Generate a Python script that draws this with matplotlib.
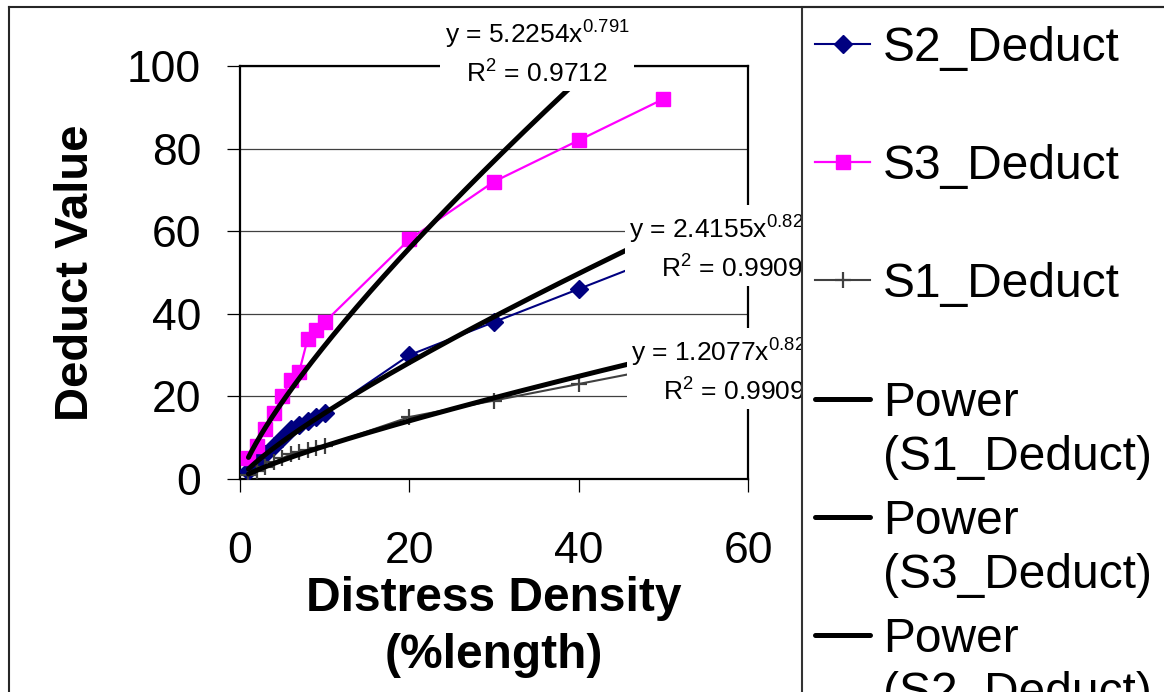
import matplotlib
matplotlib.use("Agg")
import matplotlib.pyplot as plt
from matplotlib.lines import Line2D
from matplotlib.patches import Rectangle
import numpy as np

plt.rcParams['font.family'] = ['Liberation Sans', 'DejaVu Sans']

# Distress density (% length) and deduct values per severity level
density = [1, 2, 3, 4, 5, 6, 7, 8, 9, 10, 20, 30, 40, 50]
s1_deduct = [1, 2, 3, 4, 5, 6, 6.5, 7, 7.5, 8, 15, 19, 23, 27]
s2_deduct = [2, 4, 6, 8, 10, 12, 13, 14, 15, 16, 30, 38, 46, 54]
s3_deduct = [5, 8, 12, 16, 20, 24, 26, 34, 36, 38, 58, 72, 82, 92]

# Power trendlines y = a * x^b with their R^2
trend_s1 = (1.2077, 0.82, 0.9909)
trend_s2 = (2.4155, 0.82, 0.9909)
trend_s3 = (5.2254, 0.791, 0.9712)

x_ticks = [0, 20, 40, 60]
y_ticks = [0, 20, 40, 60, 80, 100]

W, H = 1164, 692
fig = plt.figure(figsize=(W / 100, H / 100), dpi=100, facecolor='white')


def fx(px):
    return px / W


def fy(py):
    return 1 - py / H


ax = fig.add_axes([fx(240), fy(479), fx(748) - fx(240), fy(66) - fy(479)])
ax.set_xlim(0, 60)
ax.set_ylim(0, 100)
ax.set_xticks(x_ticks)
ax.set_yticks(y_ticks)
ax.tick_params(direction='out', length=9.5, width=0.9, color='black', labelsize=32)
ax.tick_params(axis='x', pad=28)
ax.tick_params(axis='y', pad=18.5)
for sp in ax.spines.values():
    sp.set_linewidth(1.6)
    sp.set_color('black')
ax.yaxis.grid(True, color='#404040', lw=0.9)
ax.set_axisbelow(True)

# Data series
ax.plot(density, s2_deduct, color='#000080', lw=1.5, marker='D', ms=9,
        mfc='#000080', mec='#000080', zorder=3)
ax.plot(density, s3_deduct, color='#FF00FF', lw=1.6, marker='s', ms=10.5,
        mfc='#FF00FF', mec='#FF00FF', zorder=3)
ax.plot(density, s1_deduct, color='#404040', lw=1.5, marker='+', ms=11.5,
        mew=1.6, zorder=3)

# Power trendlines
xs = np.linspace(min(density), max(density), 400)
for a, b, _ in (trend_s1, trend_s3, trend_s2):
    ax.plot(xs, a * xs ** b, color='black', lw=3.6, solid_capstyle='round', zorder=4)

ax.set_ylabel('Deduct Value', fontsize=34, fontweight='bold')
ax.yaxis.set_label_coords((98 - 240) / 508, 0.5)
ax.set_xlabel('Distress Density\n(%length)', fontsize=34.5, fontweight='bold',
              linespacing=1.35)
ax.xaxis.set_label_coords(0.5, (479 - 576) / 413)


def trend_text(a, b, r2):
    return (f"y = {a:.4f}x$^{{\\mathregular{{{b:g}}}}}$\n"
            f"R$^{{\\mathregular{{2}}}}$ = {r2:.4f}")


# Trendline equations, anchored on the baseline of their R^2 line
box = dict(facecolor='white', edgecolor='none', pad=3)
fig.text(fx(537), fy(82), trend_text(*trend_s3), fontsize=19, ha='center',
         va='baseline', multialignment='center', linespacing=1.4, bbox=box, zorder=3)
fig.text(fx(629), fy(277), trend_text(*trend_s2), fontsize=19, ha='left',
         va='baseline', multialignment='right', linespacing=1.4, bbox=box, zorder=3)
fig.text(fx(631), fy(400), trend_text(*trend_s1), fontsize=19, ha='left',
         va='baseline', multialignment='right', linespacing=1.4, bbox=box, zorder=3)

# Chart area border
fig.add_artist(Line2D([fx(9), 1.0], [fy(7), fy(7)], transform=fig.transFigure,
                      color='#262626', lw=1.5, zorder=6))
fig.add_artist(Line2D([fx(9), fx(9)], [fy(7), 0.0], transform=fig.transFigure,
                      color='#262626', lw=1.5, zorder=6))

# Legend panel
fig.add_artist(Rectangle((fx(802), -0.2), 1.0, fy(7) + 0.2, transform=fig.transFigure,
                         facecolor='white', edgecolor='#333333', lw=1.5, zorder=4))

legend_rows = [
    ("S2_Deduct", dict(color='#000080', lw=1.5, marker='D', ms=9)),
    ("S3_Deduct", dict(color='#FF00FF', lw=1.6, marker='s', ms=10.5)),
    ("S1_Deduct", dict(color='#404040', lw=1.5, marker='+', ms=11.5, mew=1.6)),
    ("Power\n(S1_Deduct)", dict(color='black', lw=3.6, solid_capstyle='round')),
    ("Power\n(S3_Deduct)", dict(color='black', lw=3.6, solid_capstyle='round')),
    ("Power\n(S2_Deduct)", dict(color='black', lw=3.6, solid_capstyle='round')),
]
for i, (label, style) in enumerate(legend_rows):
    yc = 44 + i * 118.2
    fig.add_artist(Line2D([fx(815), fx(842.5), fx(870)], [fy(yc)] * 3,
                          transform=fig.transFigure, markevery=[1], zorder=5, **style))
    extra_lines = label.count('\n')
    fig.text(fx(883), fy(yc + 17 + 54 * extra_lines), label, fontsize=34.5,
             ha='left', va='baseline', linespacing=1.25, zorder=5)

fig.savefig('out.png', dpi=100, facecolor='white')
